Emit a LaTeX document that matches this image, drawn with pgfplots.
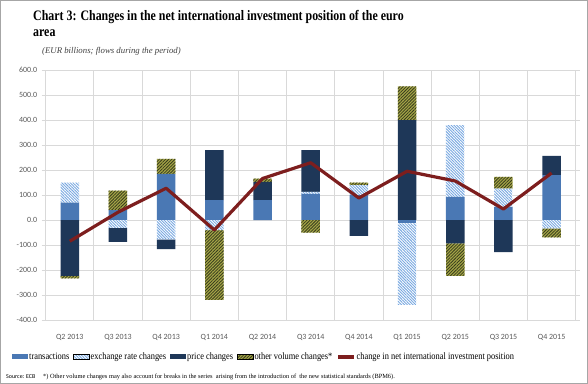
\documentclass[border=0pt]{standalone}
\usepackage{fontspec}
\setmainfont{Liberation Serif}
\newfontfamily\tserif[FakeStretch=0.825]{Liberation Serif}
\newfontfamily\lserif[FakeStretch=0.86]{Liberation Serif}
\newfontfamily\calfont{Carlito}
\usepackage{pgfplots}
\usepackage{pgfplotstable}
\pgfplotsset{compat=1.18}
\usetikzlibrary{patterns.meta}

\definecolor{trans}{RGB}{74,120,180}
\definecolor{price}{RGB}{30,55,88}
\definecolor{exch}{RGB}{120,168,225}
\definecolor{olivef}{RGB}{165,165,70}
\definecolor{olivel}{RGB}{55,60,30}
\definecolor{niip}{RGB}{125,30,30}
\definecolor{gridc}{RGB}{217,217,217}
\definecolor{tickc}{RGB}{89,89,89}

% positive parts (Tp Ep Pp Op), negative parts (Tn En Pn On), N = change in NIIP
\pgfplotstableread{
x Tp Ep Pp Op Tn En Pn On N
0 70 80 0 0 0 0 -224 -10 -85
1 40 0 0 78 0 -31 -56 0 31
2 185 0 0 60 0 -77 -40 0 127
3 80 0 200 0 0 -40 0 -280 -40
4 80 0 73 13 0 0 0 0 166
5 105 8 167 0 0 0 0 -50 229
6 100 40 0 10 0 0 -63 0 88
7 0 0 400 135 -13 -327 0 0 195
8 93 287 0 0 0 0 -93 -131 156
9 53 73 0 47 0 0 -129 0 44
10 180 0 77 0 0 -33 0 -36 188
}\data

\tikzset{
 trs/.style={fill=trans, draw=none},
 exs/.style={fill=white, draw=none, postaction={pattern={Lines[angle=-45,distance=2bp,line width=0.9bp]}, pattern color=exch}},
 prs/.style={fill=price, draw=none},
 ovs/.style={fill=olivef, draw=none, postaction={pattern={Lines[angle=45,distance=2.2bp,line width=0.8bp]}, pattern color=olivel}},
}
\pgfplotsset{
 base/.style={at={(45.7bp,64bp)}, anchor=south west, scale only axis, width=530bp, height=250bp,
   xmin=-0.5, xmax=10.5, ymin=-400, ymax=600},
}

\begin{document}
\begin{tikzpicture}
\draw[gray!70, line width=1bp] (0.5bp,0.5bp) rectangle (587.5bp,383.5bp);
\node[anchor=base west, inner sep=0, font=\tserif\bfseries\fontsize{14.5}{16}\selectfont] at (33bp,363bp) {Chart 3: Changes in the net international investment position of the euro};
\node[anchor=base west, inner sep=0, font=\tserif\bfseries\fontsize{14.5}{16}\selectfont] at (33bp,347bp) {area};
\node[anchor=base west, inner sep=0, font=\itshape\fontsize{8.8}{10}\selectfont, text=black!75] at (42bp,330bp) {(EUR billions; flows during the period)};
\node[anchor=base west, inner sep=0, font=\calfont\fontsize{6}{7}\selectfont] at (6bp,6bp) {Source: ECB};
\node[anchor=base west, inner sep=0, font=\fontsize{6.4}{7}\selectfont] at (43bp,6bp) {*) Other volume changes may also account for breaks in the series\ \ arising from the introduction of\ \ the new statistical standards (BPM6).};

\begin{axis}[base,
 ybar stacked, bar width=18.5bp,
 ytick={-400,-300,...,600},
 xtick={0,...,10},
 xticklabels={Q2 2013,Q3 2013,Q4 2013,Q1 2014,Q2 2014,Q3 2014,Q4 2014,Q1 2015,Q2 2015,Q3 2015,Q4 2015},
 minor xtick={-0.5,0.5,...,10.5},
 xminorgrids=true, ymajorgrids=true,
 grid style={draw=gridc, line width=0.8bp},
 minor grid style={draw=gridc, line width=0.8bp},
 axis line style={draw=gridc, line width=0.8bp},
 xtick style={draw=none}, minor x tick style={draw=none},
 ytick style={draw=gridc, line width=0.8bp},
 tick align=outside, major tick length=4bp, minor tick length=0pt,
 y tick label style={font=\calfont\fontsize{8}{9}\selectfont, text=tickc, xshift=-1bp, /pgf/number format/fixed, /pgf/number format/fixed zerofill, /pgf/number format/precision=1, /pgf/number format/assume math mode=true},
 x tick label style={font=\calfont\fontsize{8}{9}\selectfont, text=tickc, yshift=-7bp},
 legend columns=5,
 legend style={at={(-0.0636,-0.148)}, anchor=west, draw=none, fill=none, inner sep=0pt,
   font=\lserif\fontsize{9.8}{11}\selectfont,
   nodes={inner xsep=1bp},
   /tikz/every even column/.append style={column sep=3bp}},
 legend cell align=left,
]
\addplot[trs, forget plot] table[x=x, y=Tp] {\data};
\addplot[exs, forget plot] table[x=x, y=Ep] {\data};
\addplot[prs, forget plot] table[x=x, y=Pp] {\data};
\addplot[ovs, forget plot] table[x=x, y=Op] {\data};
\addlegendimage{legend image code/.code={\path[trs] (0bp,-2.5bp) rectangle (16bp,2.5bp);}}
\addlegendentry{transactions}
\addlegendimage{legend image code/.code={\path[exs] (0bp,-2.5bp) rectangle (16bp,2.5bp);}}
\addlegendentry{exchange rate changes}
\addlegendimage{legend image code/.code={\path[prs] (0bp,-2.5bp) rectangle (16bp,2.5bp);}}
\addlegendentry{price changes}
\addlegendimage{legend image code/.code={\path[ovs] (0bp,-2.5bp) rectangle (16bp,2.5bp);}}
\addlegendentry{other volume changes*}
\addlegendimage{legend image code/.code={\draw[niip, line width=3.2bp] (0bp,0bp) -- (16bp,0bp);}}
\addlegendentry{change in net international investment position}
\end{axis}

\begin{axis}[base, hide axis, ybar stacked, bar width=18.5bp]
\addplot[trs] table[x=x, y=Tn] {\data};
\addplot[exs] table[x=x, y=En] {\data};
\addplot[prs] table[x=x, y=Pn] {\data};
\addplot[ovs] table[x=x, y=On] {\data};
\end{axis}

\begin{axis}[base, hide axis]
\addplot[niip, line width=3.2bp, mark=none, line join=round] table[x=x, y=N] {\data};
\end{axis}
\end{tikzpicture}
\end{document}
